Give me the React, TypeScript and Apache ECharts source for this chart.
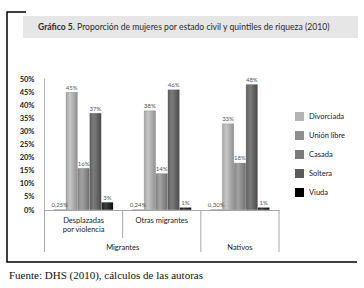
import React, { useEffect, useRef } from "react";
import * as echarts from "echarts";

const categories = ["Desplazadas\npor violencia", "Otras migrantes", "Nativos"];
const groups = ["Migrantes", "Migrantes", "Nativos"];
const seriesNames = ["Divorciada", "Unión libre", "Casada", "Soltera", "Viuda"];
const divorciada = [0.25, 0.24, 0.3];
const unionLibre = [45, 38, 33];
const casada = [16, 14, 18];
const soltera = [37, 46, 48];
const viuda = [3, 1, 1];
const seriesValues = [divorciada, unionLibre, casada, soltera, viuda];
const yTicks = { min: 0, max: 50, interval: 5 };
const titleBold = "Gráfico 5.";
const titleRest = " Proporción de mujeres por estado civil y quintiles de riqueza (2010)";
const sourceText = "Fuente: DHS (2010), cálculos de las autoras";

const barShades = [
  ["#bcbcbc", "#d8d8d8", "#a6a6a6"],
  ["#a8a8a8", "#c6c6c6", "#929292"],
  ["#878787", "#a3a3a3", "#717171"],
  ["#606060", "#7c7c7c", "#4c4c4c"],
  ["#1e1e1e", "#3e3e3e", "#0e0e0e"],
];
const legendColors = ["#b4b4b4", "#8e8e8e", "#7b7b7b", "#5b5b5b", "#000000"];

const fmt = (v: number) =>
  (v < 1 ? v.toFixed(2).replace(".", ",") : String(Math.round(v))) + "%";

export default function App() {
  const ref = useRef<HTMLDivElement>(null);
  useEffect(() => {
    if (!ref.current) return;
    const chart = echarts.init(ref.current, undefined, { renderer: "svg" });
    const option: any = {
      animation: false,
      backgroundColor: "#ffffff",
      textStyle: { fontFamily: "Lato" },
      grid: { left: 44.5, right: 85, top: 79, bottom: 78, containLabel: false },
      legend: {
        orient: "vertical",
        left: 290,
        top: 107,
        itemWidth: 9,
        itemHeight: 9,
        itemGap: 10,
        icon: "rect",
        textStyle: { fontSize: 7.5, color: "#15152a", fontFamily: "Lato" },
        data: seriesNames.map((n, i) => ({
          name: n,
          itemStyle: { color: legendColors[i], borderWidth: 0 },
        })),
      },
      xAxis: {
        type: "category",
        data: categories,
        axisLine: { show: true, lineStyle: { color: "#a8a8a8", width: 1 } },
        axisTick: { show: false },
        axisLabel: {
          interval: 0,
          margin: 6,
          fontSize: 7.5,
          lineHeight: 9,
          color: "#1a1a1a",
          fontFamily: "Lato",
          formatter: (v: string, i: number) => (v === groups[i] ? "" : v),
        },
      },
      yAxis: {
        type: "value",
        min: yTicks.min,
        max: yTicks.max,
        interval: yTicks.interval,
        splitLine: { show: false },
        axisLine: { show: true, lineStyle: { color: "#b8b8b8", width: 1 } },
        axisTick: { show: false },
        axisLabel: {
          formatter: (v: number) => v + "%",
          fontSize: 7.5,
          fontWeight: "bold",
          color: "#1a1a1a",
          margin: 10,
          fontFamily: "Lato",
        },
      },
      series: seriesNames.map((n, i) => ({
        name: n,
        type: "bar",
        data: seriesValues[i],
        barGap: "0%",
        barCategoryGap: "24%",
        itemStyle: {
          color: new echarts.graphic.LinearGradient(0, 0, 1, 0, [
            { offset: 0, color: barShades[i][0] },
            { offset: 0.35, color: barShades[i][1] },
            { offset: 1, color: barShades[i][2] },
          ]),
          borderColor: "rgba(0,0,0,0.25)",
          borderWidth: 0.5,
        },
        label: {
          show: true,
          position: "top",
          distance: 2,
          fontSize: 6,
          color: "#555555",
          fontFamily: "Lato",
          formatter: (p: any) => fmt(p.value),
        },
      })),
    };
    chart.setOption(option);

    const p0 = chart.convertToPixel({ gridIndex: 0 }, [0, 0]) as number[];
    const p1 = chart.convertToPixel({ gridIndex: 0 }, [1, 0]) as number[];
    const band = p1[0] - p0[0];
    const base = p0[1];
    const bounds = categories.map((_, i) => p0[0] - band / 2 + i * band);
    bounds.push(p0[0] - band / 2 + categories.length * band);

    const lvl1 = base + 28;
    const lvl2 = base + 42;
    const lines: any[] = [];
    bounds.forEach((b, i) => {
      const isGroupEdge =
        i === 0 || i === categories.length || groups[i] !== groups[i - 1];
      lines.push({
        type: "line",
        shape: { x1: b, y1: base, x2: b, y2: isGroupEdge ? lvl2 : lvl1 },
        style: { stroke: "#a8a8a8", lineWidth: 1 },
      });
    });
    const groupTexts: any[] = [];
    let start = 0;
    for (let i = 1; i <= groups.length; i++) {
      if (i === groups.length || groups[i] !== groups[start]) {
        groupTexts.push({
          type: "text",
          x: (bounds[start] + bounds[i]) / 2,
          y: base + 37.5,
          style: {
            text: groups[start],
            fontSize: 7.5,
            fontFamily: "Lato",
            fill: "#1a1a1a",
            align: "center",
            verticalAlign: "middle",
          },
        });
        start = i;
      }
    }

    chart.setOption({
      graphic: [
        {
          type: "rect",
          shape: { x: 23, y: 16, width: 335, height: 22 },
          style: { fill: "#e6e6e6" },
        },
        {
          type: "text",
          x: 38,
          y: 27,
          style: {
            text: "{b|" + titleBold + "}{r|" + titleRest + "}",
            verticalAlign: "middle",
            rich: {
              b: { fontSize: 8.6, fontWeight: "bold", fontFamily: "Lato", fill: "#2a2a2a" },
              r: { fontSize: 8.6, fontFamily: "Lato", fill: "#2a2a2a" },
            },
          },
        },
        {
          type: "polyline",
          shape: { points: [[26, 12], [7, 12], [7, 262], [357, 262]] },
          style: { stroke: "#000000", lineWidth: 1.5, fill: null },
        },
        ...lines,
        ...groupTexts,
        {
          type: "text",
          x: 9,
          y: 275,
          style: {
            text: sourceText,
            fontSize: 11,
            fontFamily: "Liberation Serif",
            fill: "#111111",
            verticalAlign: "middle",
          },
        },
      ],
    });
    return () => chart.dispose();
  }, []);
  return (
    <div
      ref={ref}
      style={{ position: "fixed", left: 0, top: 0, width: 364, height: 288 }}
    />
  );
}
